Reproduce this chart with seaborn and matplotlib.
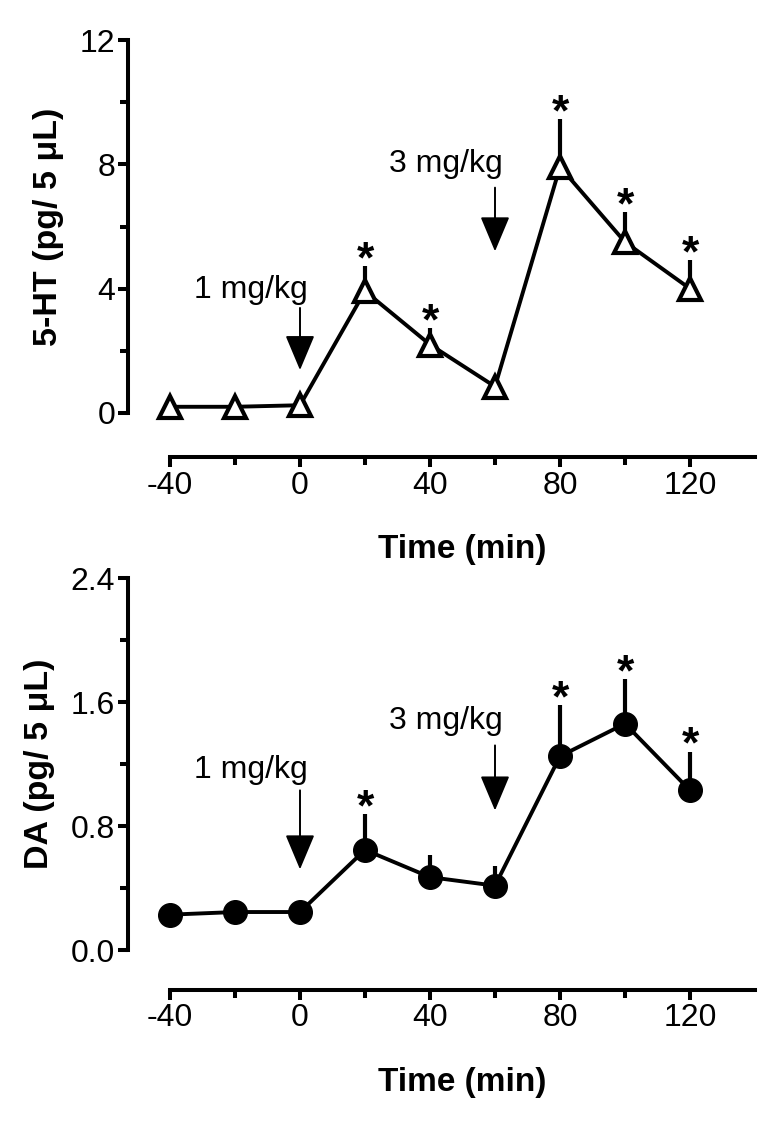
import numpy as np
import matplotlib
matplotlib.use("Agg")
import matplotlib.pyplot as plt
import seaborn as sns

# data
time = [-40, -20, 0, 20, 40, 60, 80, 100, 120]
ht_mean = [0.2, 0.2, 0.25, 3.92, 2.2, 0.85, 7.92, 5.5, 4.0]
ht_err = [0.0, 0.0, 0.0, 0.82, 0.53, 0.0, 1.55, 0.97, 0.92]
ht_sig = [20, 40, 80, 100, 120]

da_mean = [0.228, 0.245, 0.245, 0.646, 0.47, 0.415, 1.25, 1.46, 1.03]
da_err = [0.0, 0.0, 0.0, 0.23, 0.14, 0.125, 0.33, 0.29, 0.25]
da_sig = [20, 80, 100, 120]

doses = ["1 mg/kg", "3 mg/kg"]
dose_times = [0, 60]

black = {"axes.edgecolor": "black", "text.color": "black", "xtick.color": "black",
         "ytick.color": "black", "axes.labelcolor": "black"}
sns.set_style("ticks", black)
plt.rcParams["font.family"] = ["Liberation Sans", "DejaVu Sans"]
plt.rcParams["axes.unicode_minus"] = False

fig = plt.figure(figsize=(7.83, 11.28), dpi=100)
W, H = 783, 1128


def panel(rect, mean, err, sig, marker, face, ms, mew, ylim, yticks, yminor, ylabel,
          xoff, dose_y, arrow_from, arrow_to):
    ax = fig.add_axes(rect)
    err_hi = np.array(err)
    ax.errorbar(time, mean, yerr=[np.zeros_like(err_hi), err_hi], fmt="none",
                ecolor="black", elinewidth=3, capsize=0, zorder=1, clip_on=False)
    sns.lineplot(x=time, y=mean, ax=ax, color="black", lw=2.8, marker=marker,
                 markersize=ms, markerfacecolor=face, markeredgecolor="black",
                 markeredgewidth=mew, zorder=3, clip_on=False)
    for t in sig:
        i = time.index(t)
        ax.annotate("*", (t, mean[i] + err[i]), xytext=(0, -11),
                    textcoords="offset points", ha="center", va="bottom",
                    fontsize=32, fontweight="bold")
    for k, (d, t) in enumerate(zip(doses, dose_times)):
        ax.text(t + 2.5, dose_y[k], d, ha="right", va="center", fontsize=23)
        ax.annotate("", xy=(t, arrow_to[k]), xytext=(t, arrow_from[k]),
                    arrowprops=dict(arrowstyle="-|>,head_length=1.0,head_width=0.42",
                                    color="black", lw=1.4, mutation_scale=22,
                                    shrinkA=0, shrinkB=0))
    ax.set_xlim(-40, 140)
    ax.set_ylim(*ylim)
    ax.set_xticks([-40, 0, 40, 80, 120])
    ax.set_xticks([-20, 20, 60, 100], minor=True)
    ax.set_yticks(yticks)
    ax.set_yticks(yminor, minor=True)
    sns.despine(ax=ax)
    ax.spines["left"].set_position(("outward", 30))
    ax.spines["bottom"].set_position(("outward", xoff))
    for s in ("left", "bottom"):
        ax.spines[s].set_linewidth(2.9)
    ax.tick_params(which="major", length=7.5, width=2.9, labelsize=23, pad=2)
    ax.tick_params(which="minor", length=5.5, width=2.9)
    ax.set_xlabel("Time (min)", fontsize=24, fontweight="bold", labelpad=24)
    ax.set_ylabel(ylabel, fontsize=24.5, fontweight="bold", labelpad=11)
    return ax


panel([170 / W, 1 - 413 / H, 585 / W, 373 / H], ht_mean, ht_err, ht_sig, "^", "white",
      16, 3.0, (0, 12), [0, 4, 8, 12], [2, 6, 10], "5-HT (pg/ 5 \u03bcL)", 32,
      [3.95, 8.0], [3.38, 7.25], [1.38, 5.2])
ax2 = panel([170 / W, 1 - 950 / H, 585 / W, 372 / H], da_mean, da_err, da_sig, "o", "black",
            17, 1.0, (0, 2.4), [0, 0.8, 1.6, 2.4], [0.4, 1.2, 2.0], "DA (pg/ 5 \u03bcL)", 29,
            [1.16, 1.48], [1.03, 1.32], [0.52, 0.9])
ax2.set_yticklabels(["0.0", "0.8", "1.6", "2.4"])

fig.savefig("out.png", dpi=100)
